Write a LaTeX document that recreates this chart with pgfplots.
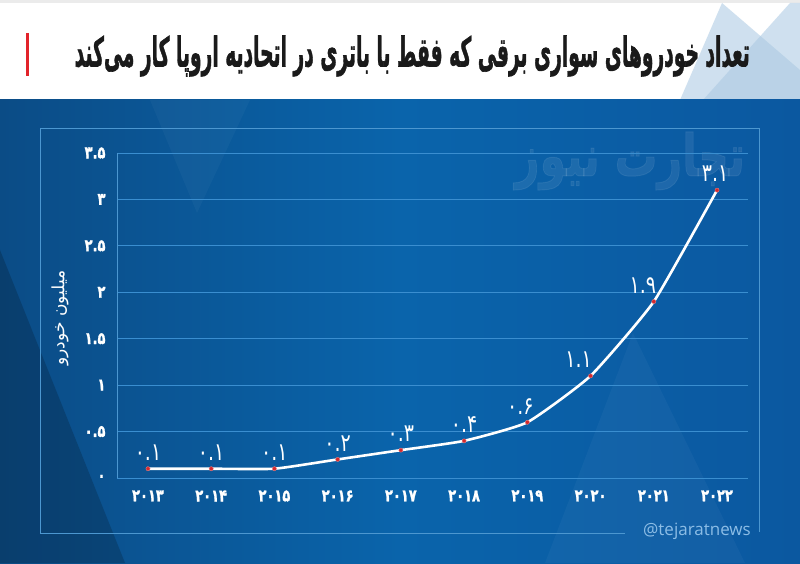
\documentclass[border=0pt]{standalone}
\usepackage{pgfplots}
\pgfplotsset{compat=1.18}
\usepackage{pgfplotstable}
\usepackage{graphicx}
\usepackage{fontspec}
\setmainfont{DejaVu Sans}
\newfontfamily\fa[Script=Arabic]{DejaVu Sans}
\newfontfamily\fab[Script=Arabic,FakeBold=1.6]{DejaVu Sans Bold}
\newfontfamily\lat{Open Sans}
\TeXXeTstate=1
\newcommand\D[1]{\scalebox{1}[1.3]{#1}}
\newcommand\lab[1]{\ifcase#1
۰.۱\or
۰.۱\or
۰.۱\or
۰.۲\or
۰.۳\or
۰.۴\or
۰.۶\or
۱.۱\or
۱.۹\or
۳.۱\fi}
\definecolor{bgleft}{HTML}{0B4C86}
\definecolor{bgmid}{HTML}{0A64AB}
\definecolor{bgright}{HTML}{0B58A0}
\definecolor{gridc}{HTML}{3A8ED0}
\definecolor{framec}{HTML}{4C97D0}
\definecolor{markred}{HTML}{D42A2E}
\definecolor{barred}{HTML}{E2232A}
\definecolor{tri}{HTML}{A9C8E2}
\definecolor{handle}{HTML}{8CBDE6}
\definecolor{titlec}{HTML}{1A1A1A}

\pgfplotstableread{
x y dx
0 0.1 0
1 0.1 0
2 0.1 0
3 0.2 0
4 0.3 0
5 0.4 0
6 0.6 -7
7 1.1 -12
8 1.9 -11
9 3.1 -2
}\datatable

\begin{document}
\begin{tikzpicture}[x=1pt,y=1pt]
\useasboundingbox (0,0) rectangle (800,563);
% header
\fill[white] (0,463) rectangle (800,563);
\fill[black!8] (0,560) rectangle (800,563);
\fill[tri,opacity=0.55] (722,560) -- (680,463) -- (800,463) -- (800,493) -- cycle;
\fill[tri,opacity=0.55] (790,560) -- (703,463) -- (800,463) -- (800,560) -- cycle;
\fill[barred] (26,487) rectangle (29,530);
\node[anchor=east,inner sep=0pt,text=titlec] at (750,507) {\resizebox{675pt}{31pt}{\fab\beginR تعداد خودروهای سواری برقی که فقط با باتری در اتحادیه اروپا کار می‌کند\endR}};
% blue background
\shade[left color=bgleft, right color=bgright, middle color=bgmid] (0,0) rectangle (800,463);
\fill[black,opacity=0.18] (0,313) -- (125,0) -- (0,0) -- cycle;
\fill[white,opacity=0.03] (150,463) -- (197,350) -- (250,463) -- cycle;
\fill[white,opacity=0.035] (633,230) -- (545,0) -- (745,0) -- cycle;
% frame
\draw[framec,line width=1pt] (625,30) -- (40,30) -- (40,434) -- (759,434) -- (759,31);
\node[anchor=east,inner sep=0pt,text=handle] at (751,32) {\lat\fontsize{17}{17}\selectfont @tejaratnews};
% watermark
\node[inner sep=0pt,white,opacity=0.08] at (630,402) {\resizebox{230pt}{44pt}{\fab\beginR تجارت نیوز\endR}};
% y label
\node[rotate=90,white,inner sep=0pt] at (60,245) {\fa\fontsize{17}{17}\selectfont\beginR میلیون خودرو\endR};
\begin{axis}[
  at={(117pt,85pt)}, anchor=south west,
  scale only axis, width=631pt, height=325pt,
  xmin=-0.49, xmax=9.49, ymin=0, ymax=3.5,
  axis x line*=bottom, axis y line*=left,
  x axis line style={draw=gridc,line width=1pt,-},
  y axis line style={draw=framec,line width=1pt,-},
  ymajorgrids, major grid style={draw=gridc,line width=1pt},
  tick style={draw=none},
  xtick={0,1,2,3,4,5,6,7,8,9},
  xticklabels={\D{۲۰۱۳},\D{۲۰۱۴},\D{۲۰۱۵},\D{۲۰۱۶},\D{۲۰۱۷},\D{۲۰۱۸},\D{۲۰۱۹},\D{۲۰۲۰},\D{۲۰۲۱},\D{۲۰۲۲}},
  ytick={0,0.5,1,1.5,2,2.5,3,3.5},
  yticklabels={\D{۰},\D{۰.۵},\D{۱},\D{۱.۵},\D{۲},\D{۲.۵},\D{۳},\D{۳.۵}},
  xticklabel style={font=\fab\fontsize{13}{13}\selectfont,text=white},
  yticklabel style={font=\fab\fontsize{13}{13}\selectfont,text=white},
  xticklabel shift=9pt, yticklabel shift=8pt,
  clip=false,
]
\addplot[white,line width=2.6pt,smooth,tension=0.28,
  mark=*, mark size=2.1pt, mark options={fill=markred,draw=markred!60!white,line width=0.4pt},
  nodes near coords={\pgfmathtruncatemacro\ki{round(\kk)}\scalebox{1}[1.3]{\lab{\ki}}},
  visualization depends on={\thisrow{dx} \as \dx},
  visualization depends on={\thisrow{x} \as \kk},
  every node near coord/.append style={font=\fa\fontsize{19}{19}\selectfont,text=white,inner sep=0pt,anchor=south,yshift=8pt,xshift=\dx pt},
] table[x=x,y=y] {\datatable};
\end{axis}
\end{tikzpicture}
\end{document}
